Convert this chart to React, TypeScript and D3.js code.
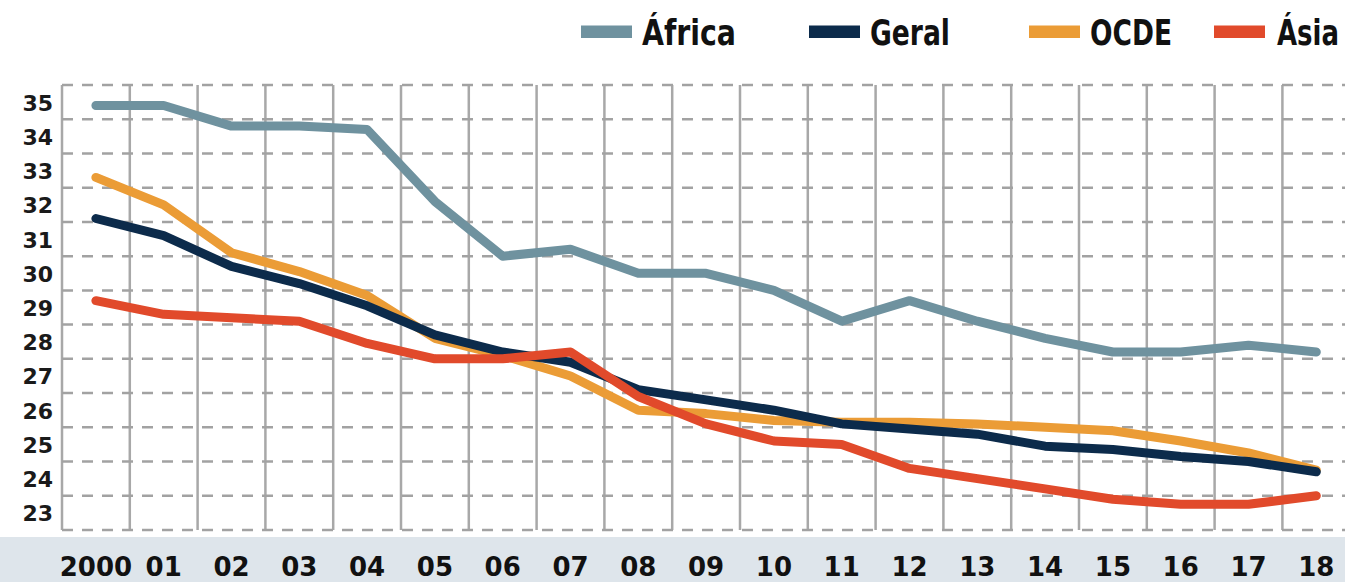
import React, { useLayoutEffect, useRef, useState } from "react";
import * as d3 from "d3";

// Years on the horizontal axis
const YEARS = ["2000", "01", "02", "03", "04", "05", "06", "07", "08", "09", "10", "11", "12", "13", "14", "15", "16", "17", "18"];

// Series values, one per year
const AFRICA = [34.9, 34.9, 34.3, 34.3, 34.2, 32.1, 30.5, 30.7, 30.0, 30.0, 29.5, 28.6, 29.2, 28.6, 28.1, 27.7, 27.7, 27.9, 27.7];
const GERAL = [31.6, 31.1, 30.2, 29.7, 29.05, 28.2, 27.7, 27.4, 26.6, 26.3, 26.0, 25.6, 25.45, 25.3, 24.95, 24.85, 24.65, 24.5, 24.2];
const OCDE = [32.8, 32.0, 30.6, 30.05, 29.35, 28.1, 27.6, 27.0, 26.0, 25.9, 25.7, 25.65, 25.65, 25.6, 25.5, 25.4, 25.1, 24.75, 24.25];
const ASIA = [29.2, 28.8, 28.7, 28.6, 27.95, 27.5, 27.5, 27.7, 26.4, 25.6, 25.1, 25.0, 24.3, 24.0, 23.7, 23.4, 23.25, 23.25, 23.5];

// Y axis tick labels
const Y_TICKS = [23, 24, 25, 26, 27, 28, 29, 30, 31, 32, 33, 34, 35];

// Series definitions (draw order: bottom to top)
const SERIES_NAMES = ["África", "OCDE", "Geral", "Ásia"];
const SERIES_VALUES = [AFRICA, OCDE, GERAL, ASIA];
const LEGEND_ORDER = ["África", "Geral", "OCDE", "Ásia"];

const COLORS: Record<string, string> = {
  "África": "#6f929f",
  "Geral": "#0c2b4b",
  "OCDE": "#eb9c36",
  "Ásia": "#e14a2b",
};

const W = 1345;
const H = 582;
const PLOT_LEFT = 62;
const COL_W = 67.8;
const PLOT_TOP = 85;
const PLOT_BOTTOM = 530;

// Legend layout: swatch left edge, text left edge, target text width
const LEGEND_LAYOUT = [
  { sx: 581, tx: 642, tw: 94 },
  { sx: 809, tx: 870, tw: 80 },
  { sx: 1029, tx: 1090, tw: 82 },
  { sx: 1214, tx: 1277, tw: 62 },
];

export default function App() {
  const labelRefs = useRef<(SVGTextElement | null)[]>([]);
  const [squeeze, setSqueeze] = useState<number[]>(LEGEND_ORDER.map(() => 0.8));

  // Condense each legend label horizontally so it fits its slot
  useLayoutEffect(() => {
    const next = LEGEND_ORDER.map((_, i) => {
      const el = labelRefs.current[i];
      if (!el) return 0.8;
      const natural = el.getComputedTextLength();
      return natural > 0 ? LEGEND_LAYOUT[i].tw / natural : 0.8;
    });
    setSqueeze(next);
  }, []);

  const x = d3
    .scaleBand<string>()
    .domain(YEARS)
    .range([PLOT_LEFT, PLOT_LEFT + COL_W * YEARS.length])
    .padding(0);
  const y = d3.scaleLinear().domain([22.5, 35.5]).range([PLOT_BOTTOM, PLOT_TOP]);
  const cx = (yr: string) => (x(yr) as number) + x.bandwidth() / 2;

  const line = d3
    .line<number>()
    .x((_, i) => cx(YEARS[i]))
    .y((d) => y(d))
    .curve(d3.curveLinear);

  const gridValues = d3.range(22.5, 35.6, 1);

  return (
    <svg
      width={W}
      height={H}
      viewBox={`0 0 ${W} ${H}`}
      style={{ position: "absolute", left: 0, top: 0, background: "#ffffff" }}
    >
      <rect x={0} y={0} width={W} height={H} fill="#ffffff" />

      {/* x-axis band */}
      <rect x={0} y={537} width={W} height={H - 537} fill="#dee5eb" />

      {/* vertical solid grid lines */}
      {YEARS.map((yr) => (
        <line
          key={"v" + yr}
          x1={x(yr) as number}
          x2={x(yr) as number}
          y1={PLOT_TOP}
          y2={PLOT_BOTTOM}
          stroke="#a8a8a8"
          strokeWidth={2.5}
        />
      ))}

      {/* horizontal dashed grid lines */}
      {gridValues.map((v) => (
        <line
          key={"h" + v}
          x1={PLOT_LEFT}
          x2={W}
          y1={y(v)}
          y2={y(v)}
          stroke="#a2a2a2"
          strokeWidth={2.5}
          strokeDasharray="11 9"
        />
      ))}

      {/* y tick labels */}
      {Y_TICKS.map((t) => (
        <text
          key={"yt" + t}
          x={53}
          y={y(t) + 8.5}
          textAnchor="end"
          fontFamily="'DejaVu Sans', sans-serif"
          fontWeight={700}
          fontSize={22}
          fill="#1a1a1a"
        >
          {t}
        </text>
      ))}

      {/* x tick labels */}
      {YEARS.map((yr) => (
        <text
          key={"xt" + yr}
          x={cx(yr)}
          y={576}
          textAnchor="middle"
          fontFamily="'DejaVu Sans', sans-serif"
          fontWeight={700}
          fontSize={26}
          fill="#111111"
        >
          {yr}
        </text>
      ))}

      {/* series lines */}
      {SERIES_NAMES.map((name, i) => (
        <path
          key={name}
          d={line(SERIES_VALUES[i]) || ""}
          fill="none"
          stroke={COLORS[name]}
          strokeWidth={9}
          strokeLinecap="round"
          strokeLinejoin="round"
        />
      ))}

      {/* legend */}
      {LEGEND_ORDER.map((name, i) => {
        const L = LEGEND_LAYOUT[i];
        return (
          <g key={"lg" + name}>
            <rect x={L.sx} y={25.5} width={51} height={12.5} fill={COLORS[name]} />
            <g transform={`translate(${L.tx},44.5) scale(${squeeze[i]},1)`}>
              <text
                ref={(el) => {
                  labelRefs.current[i] = el;
                }}
                x={0}
                y={0}
                fontFamily="'Liberation Sans Narrow', 'DejaVu Sans Condensed', sans-serif"
                fontWeight={700}
                fontSize={35}
                fill="#111111"
              >
                {name}
              </text>
            </g>
          </g>
        );
      })}
    </svg>
  );
}
